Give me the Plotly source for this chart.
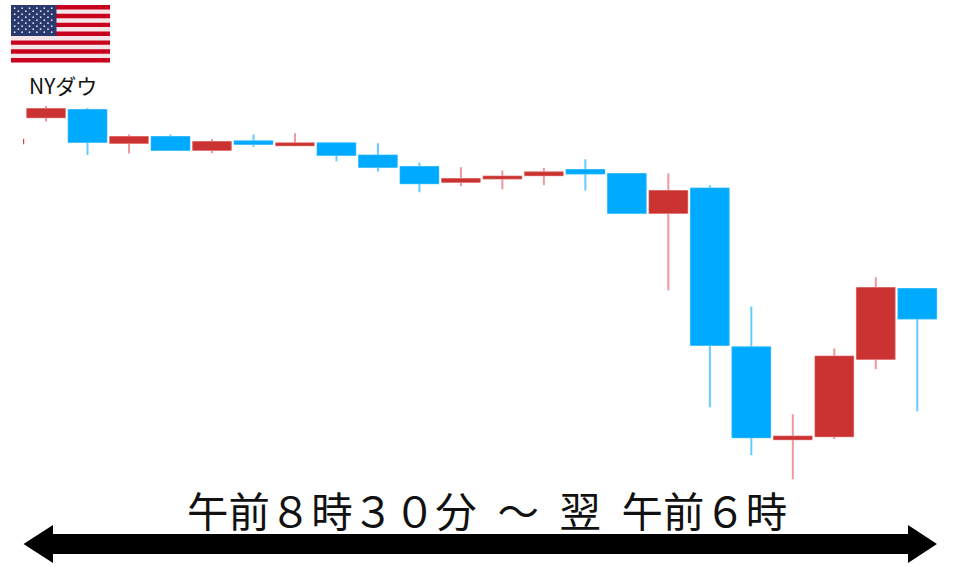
import plotly.graph_objects as go

W, H = 960, 567

# Candles (index along the time axis; prices in chart units)
candle_index = list(range(23))
opens = [424, 450.3, 457.7, 424.7, 430.7, 417.7, 426.3, 422.3, 424.3, 412, 400.7, 385.7, 389, 392.3, 397.7, 393.7, 354.7, 379, 220.3, 128.3, 131.3, 208.7, 278.7]
closes = [428, 458.7, 425.7, 430.7, 417.7, 425.7, 423.7, 424.3, 412.7, 400.7, 384.3, 388.7, 391, 395.3, 394, 354.7, 376.7, 222.7, 130.3, 131, 211, 279.7, 249]
highs = [428, 461.7, 459.7, 433, 433, 428.7, 433, 434.3, 425, 424.3, 405, 400.3, 397, 399.7, 408.3, 393.7, 394.3, 382.3, 261, 153.3, 219, 290.3, 278.7]
lows = [424, 446, 412.7, 414, 416.7, 414.3, 420.7, 421, 406.3, 396, 375.3, 381.3, 378.3, 382.3, 377, 353.5, 277, 160.3, 112.3, 88.3, 128.7, 198.3, 156.3]

flag_label = "NYダウ"
period_label = "午前８時３０分\u2002～\u2002翌\u2002午前６時"

RED, BLUE = "#CB3332", "#00AAFF"
RED_SOFT, BLUE_SOFT = "#EC9A9A", "#66CCFF"


def px(x):
    return x / W


def py(y):
    return 1 - y / H


fig = go.Figure()
# Wicks and soft outline
fig.add_trace(go.Candlestick(
    x=candle_index, open=opens, high=highs, low=lows, close=closes,
    increasing=dict(line=dict(color=RED_SOFT, width=2), fillcolor=RED),
    decreasing=dict(line=dict(color=BLUE_SOFT, width=2), fillcolor=BLUE),
    whiskerwidth=0, showlegend=False, hoverinfo="skip",
))
# Solid bodies on top
fig.add_trace(go.Candlestick(
    x=candle_index, open=opens, close=closes,
    high=[max(a, b) for a, b in zip(opens, closes)],
    low=[min(a, b) for a, b in zip(opens, closes)],
    increasing=dict(line=dict(color=RED, width=0.8), fillcolor=RED),
    decreasing=dict(line=dict(color=BLUE, width=0.8), fillcolor=BLUE),
    whiskerwidth=0, showlegend=False, hoverinfo="skip",
))

shapes = []


def rect(x0, y0, x1, y1, color):
    shapes.append(dict(type="rect", xref="paper", yref="paper",
                       x0=px(x0), x1=px(x1), y0=py(y0), y1=py(y1),
                       fillcolor=color, line=dict(width=0)))


# US flag
FX0, FX1, FY0, FY1 = 11, 110, 5, 62.5
rect(FX0, FY0, FX1, FY1, "#F4E6E8")
stripe = (FY1 - FY0) / 13
for i in range(0, 13, 2):
    rect(FX0, FY0 + i * stripe, FX1, FY0 + (i + 1) * stripe, "#C8001E")
rect(FX0, FY0, 56.5, FY0 + 7 * stripe, "#2B3A6E")
for row in range(9):
    n = 6 if row % 2 == 0 else 5
    for c in range(n):
        cx = FX0 + 3.7 + c * 7.4 + (0 if row % 2 == 0 else 3.7)
        cy = FY0 + 3.2 + row * 3.0
        shapes.append(dict(type="circle", xref="paper", yref="paper",
                           x0=px(cx - 0.85), x1=px(cx + 0.85),
                           y0=py(cy - 0.85), y1=py(cy + 0.85),
                           fillcolor="#E8EAF2", line=dict(width=0)))

# Double-headed arrow
pts = [(23.5, 544), (53, 525), (53, 534), (908, 534), (908, 525), (937, 544),
       (908, 563), (908, 554), (53, 554), (53, 563)]
path = "M " + " L ".join(f"{px(a):.5f},{py(b):.5f}" for a, b in pts) + " Z"
shapes.append(dict(type="path", xref="paper", yref="paper", path=path,
                   fillcolor="#000000", line=dict(width=0)))

FONT = "Noto Sans CJK JP"
annotations = [
    dict(text=flag_label, xref="paper", yref="paper", x=px(62.5), y=py(85),
         showarrow=False, xanchor="center", yanchor="middle",
         font=dict(family=FONT, size=21, color="#111111")),
    dict(text=period_label, xref="paper", yref="paper", x=px(487), y=py(509),
         showarrow=False, xanchor="center", yanchor="middle",
         font=dict(family=FONT, size=41.4, color="#111111")),
]

fig.update_layout(
    width=W, height=H, margin=dict(l=0, r=0, t=0, b=0),
    paper_bgcolor="white", plot_bgcolor="white",
    boxmode="overlay", boxgap=0.09, boxgroupgap=0, showlegend=False,
    shapes=shapes, annotations=annotations,
    xaxis=dict(domain=[23 / W, 1], range=[0.445, 23.03], visible=False,
               rangeslider=dict(visible=False), fixedrange=True),
    yaxis=dict(range=[0.6, H + 0.6], visible=False, fixedrange=True),
)
fig.write_html("out.html", post_script="document.body.style.margin='0';",
               config=dict(displayModeBar=False))
